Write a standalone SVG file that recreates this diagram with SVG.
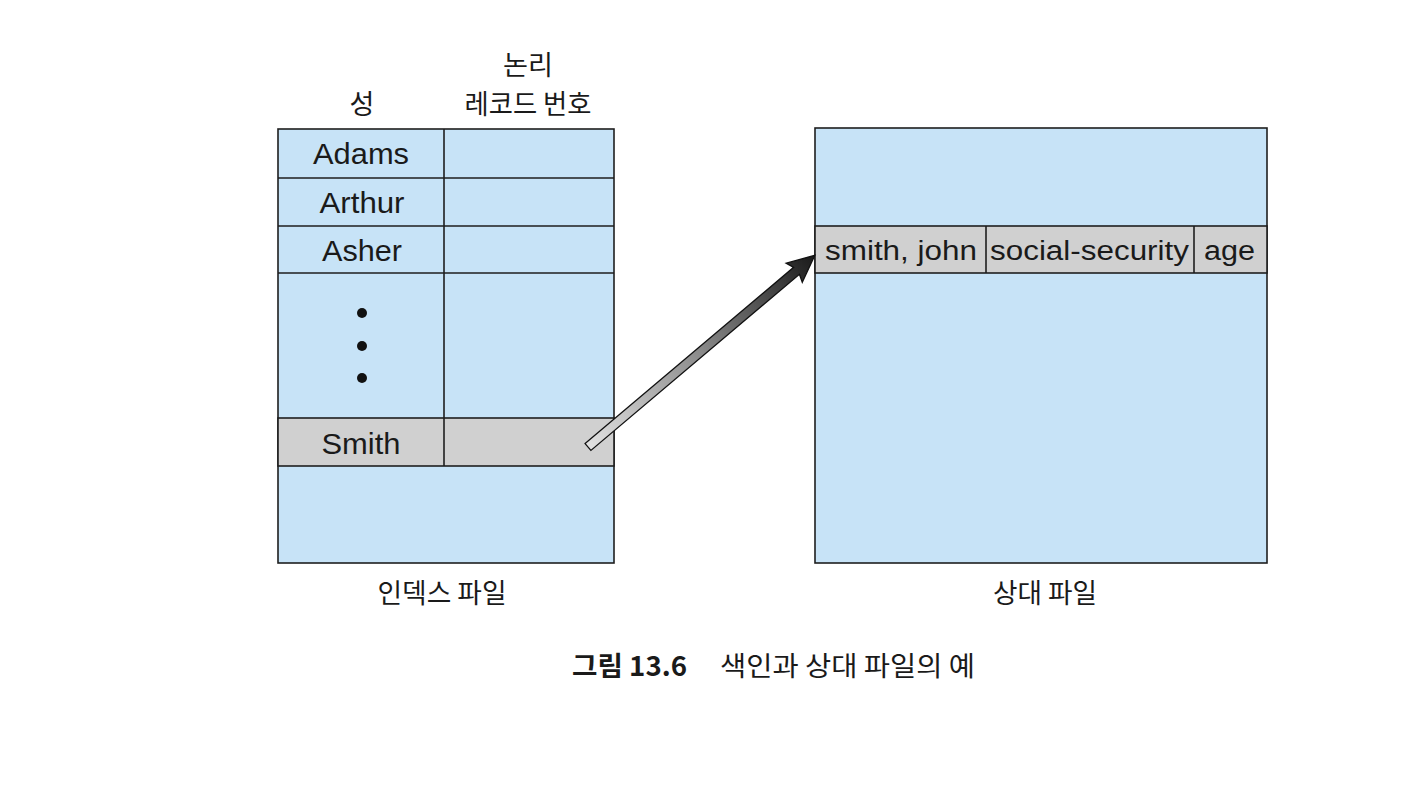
<svg xmlns="http://www.w3.org/2000/svg" width="1422" height="792" viewBox="0 0 1422 792">
<style>
.blue{fill:#c7e3f7;stroke:#1e1e1e;stroke-width:1.6}
.gray{fill:#d0d0d0;stroke:#1e1e1e;stroke-width:1.6}
.ln{stroke:#1e1e1e;stroke-width:1.6;fill:none}
.en{font-family:"Liberation Sans",Arial,sans-serif;fill:#1a1a1a;text-anchor:middle}
.ko{font-family:"Noto Sans CJK KR","Noto Sans",sans-serif;fill:#1a1a1a;text-anchor:middle}
.dot{fill:#111}
</style>
<defs>
<linearGradient id="arrowGrad" gradientUnits="userSpaceOnUse" x1="0" y1="0" x2="297" y2="0">
<stop offset="0" stop-color="#e2e2e2"/>
<stop offset="0.5" stop-color="#8a8a8a"/>
<stop offset="1" stop-color="#1a1a1a"/>
</linearGradient>
</defs>
<rect width="1422" height="792" fill="#ffffff"/>

<g id="index-headers">
<text class="ko" x="362" y="114" font-size="27">성</text>
<text class="ko" x="528" y="75" font-size="27" textLength="50" lengthAdjust="spacingAndGlyphs">논리</text>
<text class="ko" x="528" y="114" font-size="27" textLength="127" lengthAdjust="spacingAndGlyphs">레코드 번호</text>
</g>

<g id="index-file">
<rect class="blue" x="278" y="129" width="336" height="434"/>
<rect class="gray" x="278" y="418" width="336" height="48"/>
<line class="ln" x1="278" y1="178" x2="614" y2="178"/>
<line class="ln" x1="278" y1="226" x2="614" y2="226"/>
<line class="ln" x1="278" y1="273" x2="614" y2="273"/>
<line class="ln" x1="444" y1="129" x2="444" y2="466"/>
<text class="en" x="361" y="164" font-size="29" textLength="96" lengthAdjust="spacingAndGlyphs">Adams</text>
<text class="en" x="362" y="213" font-size="29" textLength="85" lengthAdjust="spacingAndGlyphs">Arthur</text>
<text class="en" x="362" y="261" font-size="29" textLength="80" lengthAdjust="spacingAndGlyphs">Asher</text>
<circle class="dot" cx="362" cy="313" r="5"/>
<circle class="dot" cx="362" cy="346" r="5"/>
<circle class="dot" cx="362" cy="378" r="5"/>
<text class="en" x="361" y="454" font-size="29" textLength="79" lengthAdjust="spacingAndGlyphs">Smith</text>
<text class="ko" x="442" y="603" font-size="27" textLength="129" lengthAdjust="spacingAndGlyphs">인덱스 파일</text>
</g>

<g id="relative-file">
<rect class="blue" x="815" y="128" width="452" height="435"/>
<rect class="gray" x="815" y="226" width="452" height="47"/>
<line class="ln" x1="986" y1="226" x2="986" y2="273"/>
<line class="ln" x1="1194" y1="226" x2="1194" y2="273"/>
<text class="en" x="901" y="260" font-size="27" textLength="152" lengthAdjust="spacingAndGlyphs">smith, john</text>
<text class="en" x="1089.5" y="260" font-size="27" textLength="199" lengthAdjust="spacingAndGlyphs">social-security</text>
<text class="en" x="1229.5" y="260" font-size="27" textLength="51" lengthAdjust="spacingAndGlyphs">age</text>
<text class="ko" x="1045" y="603" font-size="27" textLength="104" lengthAdjust="spacingAndGlyphs">상대 파일</text>
</g>

<g id="connectors">
<g transform="translate(588,447) rotate(-40.2)">
<path d="M0,-4.5 L273,-4.5 L270,-12.5 L297,0 L270,12.5 L273,4.5 L0,4.5 Z" fill="url(#arrowGrad)" stroke="#111" stroke-width="1.3" stroke-linejoin="miter"/>
</g>
</g>

<g id="caption">
<text class="ko" x="629.5" y="676" font-size="27" font-weight="bold" textLength="115" lengthAdjust="spacingAndGlyphs">그림 13.6</text>
<text class="ko" x="847.5" y="676" font-size="27" textLength="255" lengthAdjust="spacingAndGlyphs">색인과 상대 파일의 예</text>
</g>
</svg>
